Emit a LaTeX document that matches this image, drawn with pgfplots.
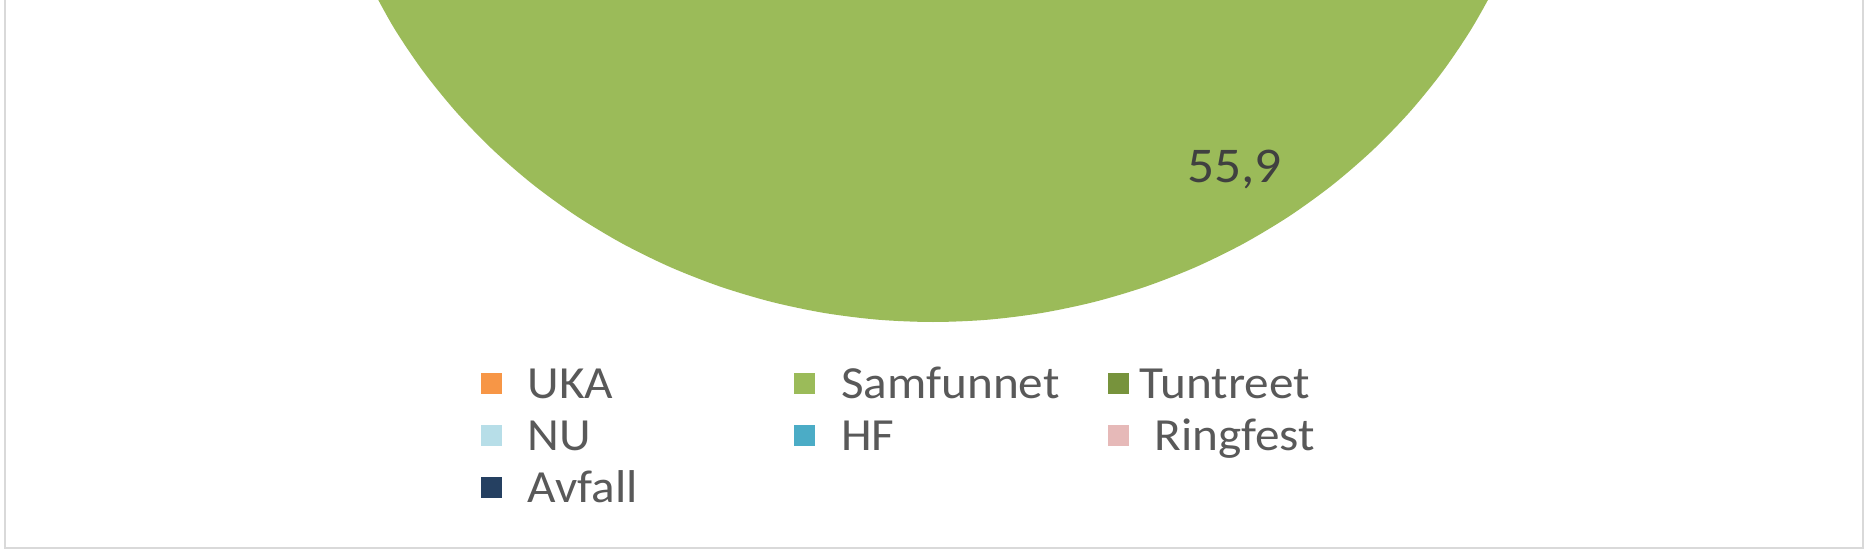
\documentclass[border=0pt]{standalone}
\usepackage{pgfplots}
\pgfplotsset{compat=1.18}
\usepackage{fontspec}
\setmainfont{Carlito}[FakeStretch=1.07]

\definecolor{uka}{HTML}{F79646}
\definecolor{samf}{HTML}{9BBB59}
\definecolor{tunt}{HTML}{77933C}
\definecolor{nu}{HTML}{B7DEE8}
\definecolor{hf}{HTML}{4BACC6}
\definecolor{ring}{HTML}{E6B9B8}
\definecolor{avfall}{HTML}{254061}
\definecolor{txt}{HTML}{595959}
\definecolor{lbl}{HTML}{404040}
\definecolor{frame}{HTML}{D9D9D9}

\begin{document}
\begin{tikzpicture}
\begin{axis}[
    name=ax,
    width=467.25pt, height=138.5pt,
    scale only axis,
    hide axis,
    xmin=-1.5002, xmax=1.5051,
    ymin=-1.3954, ymax=-0.4512,
    legend columns=3,
    legend cell align=left,
    legend image code/.code={\fill[#1, draw=none] (0pt,-1.925pt) rectangle (5.25pt,3.325pt);},
    legend style={draw=none, fill=none, inner sep=0pt,
        at={(0.2568,0.3466)}, anchor=north west,
        font=\fontsize{11.5}{14}\selectfont, text=txt,
        nodes={inner sep=0pt, text height=9pt, text depth=3pt},
        row sep=1pt,
        /tikz/every odd column/.append style={column sep=6.5pt},
        /tikz/every even column/.append style={column sep=8.6pt}},
]
% Samfunnet slice (55.9 %), polar coordinates: angle, radius
\addplot[fill=samf, draw=none, data cs=polar, smooth, forget plot] coordinates {
(0,0) (44.4,1) (40,1) (35,1) (30,1) (25,1) (20,1) (15,1) (10,1) (5,1) (0,1)
(-5,1) (-10,1) (-15,1) (-20,1) (-25,1) (-30,1) (-35,1) (-40,1) (-45,1)
(-50,1) (-55,1) (-60,1) (-65,1) (-70,1) (-75,1) (-80,1) (-85,1) (-90,1)
(-95,1) (-100,1) (-105,1) (-110,1) (-115,1) (-120,1) (-125,1) (-130,1)
(-135,1) (-140,1) (-145,1) (-150,1) (-155,1) (-156.9,1) (0,0)
};
% data label
\addplot[draw=none, mark=none, data cs=polar, forget plot,
    point meta=explicit,
    nodes near coords={\pgfmathprintnumber[use comma,fixed,precision=1,fixed zerofill,assume math mode=true]{\pgfplotspointmeta}},
    nodes near coords style={anchor=center, text=lbl, font=\fontsize{12.5}{14}\selectfont}]
    coordinates {(-56.8,0.8854) [55.9]};

\addlegendimage{fill=uka}\addlegendentry{\makebox[58pt][l]{UKA}}
\addlegendimage{fill=samf}\addlegendentry{\makebox[58pt][l]{Samfunnet}}
\addlegendimage{fill=tunt}\addlegendentry{\makebox[58pt][l]{\hspace{-3.75pt}Tuntreet}}
\addlegendimage{fill=nu}\addlegendentry{\makebox[58pt][l]{NU}}
\addlegendimage{fill=hf}\addlegendentry{\makebox[58pt][l]{HF}}
\addlegendimage{fill=ring}\addlegendentry{\makebox[58pt][l]{Ringfest}}
\addlegendimage{fill=avfall}\addlegendentry{\makebox[58pt][l]{Avfall}}
\end{axis}
\draw[frame, line width=0.5pt, shift={(ax.south west)}]
    (1.25pt,140pt) -- (1.25pt,1.5pt) -- (465.75pt,1.5pt) -- (465.75pt,140pt);
\pgfresetboundingbox
\useasboundingbox (ax.south west) rectangle (ax.north east);
\end{tikzpicture}
\end{document}
